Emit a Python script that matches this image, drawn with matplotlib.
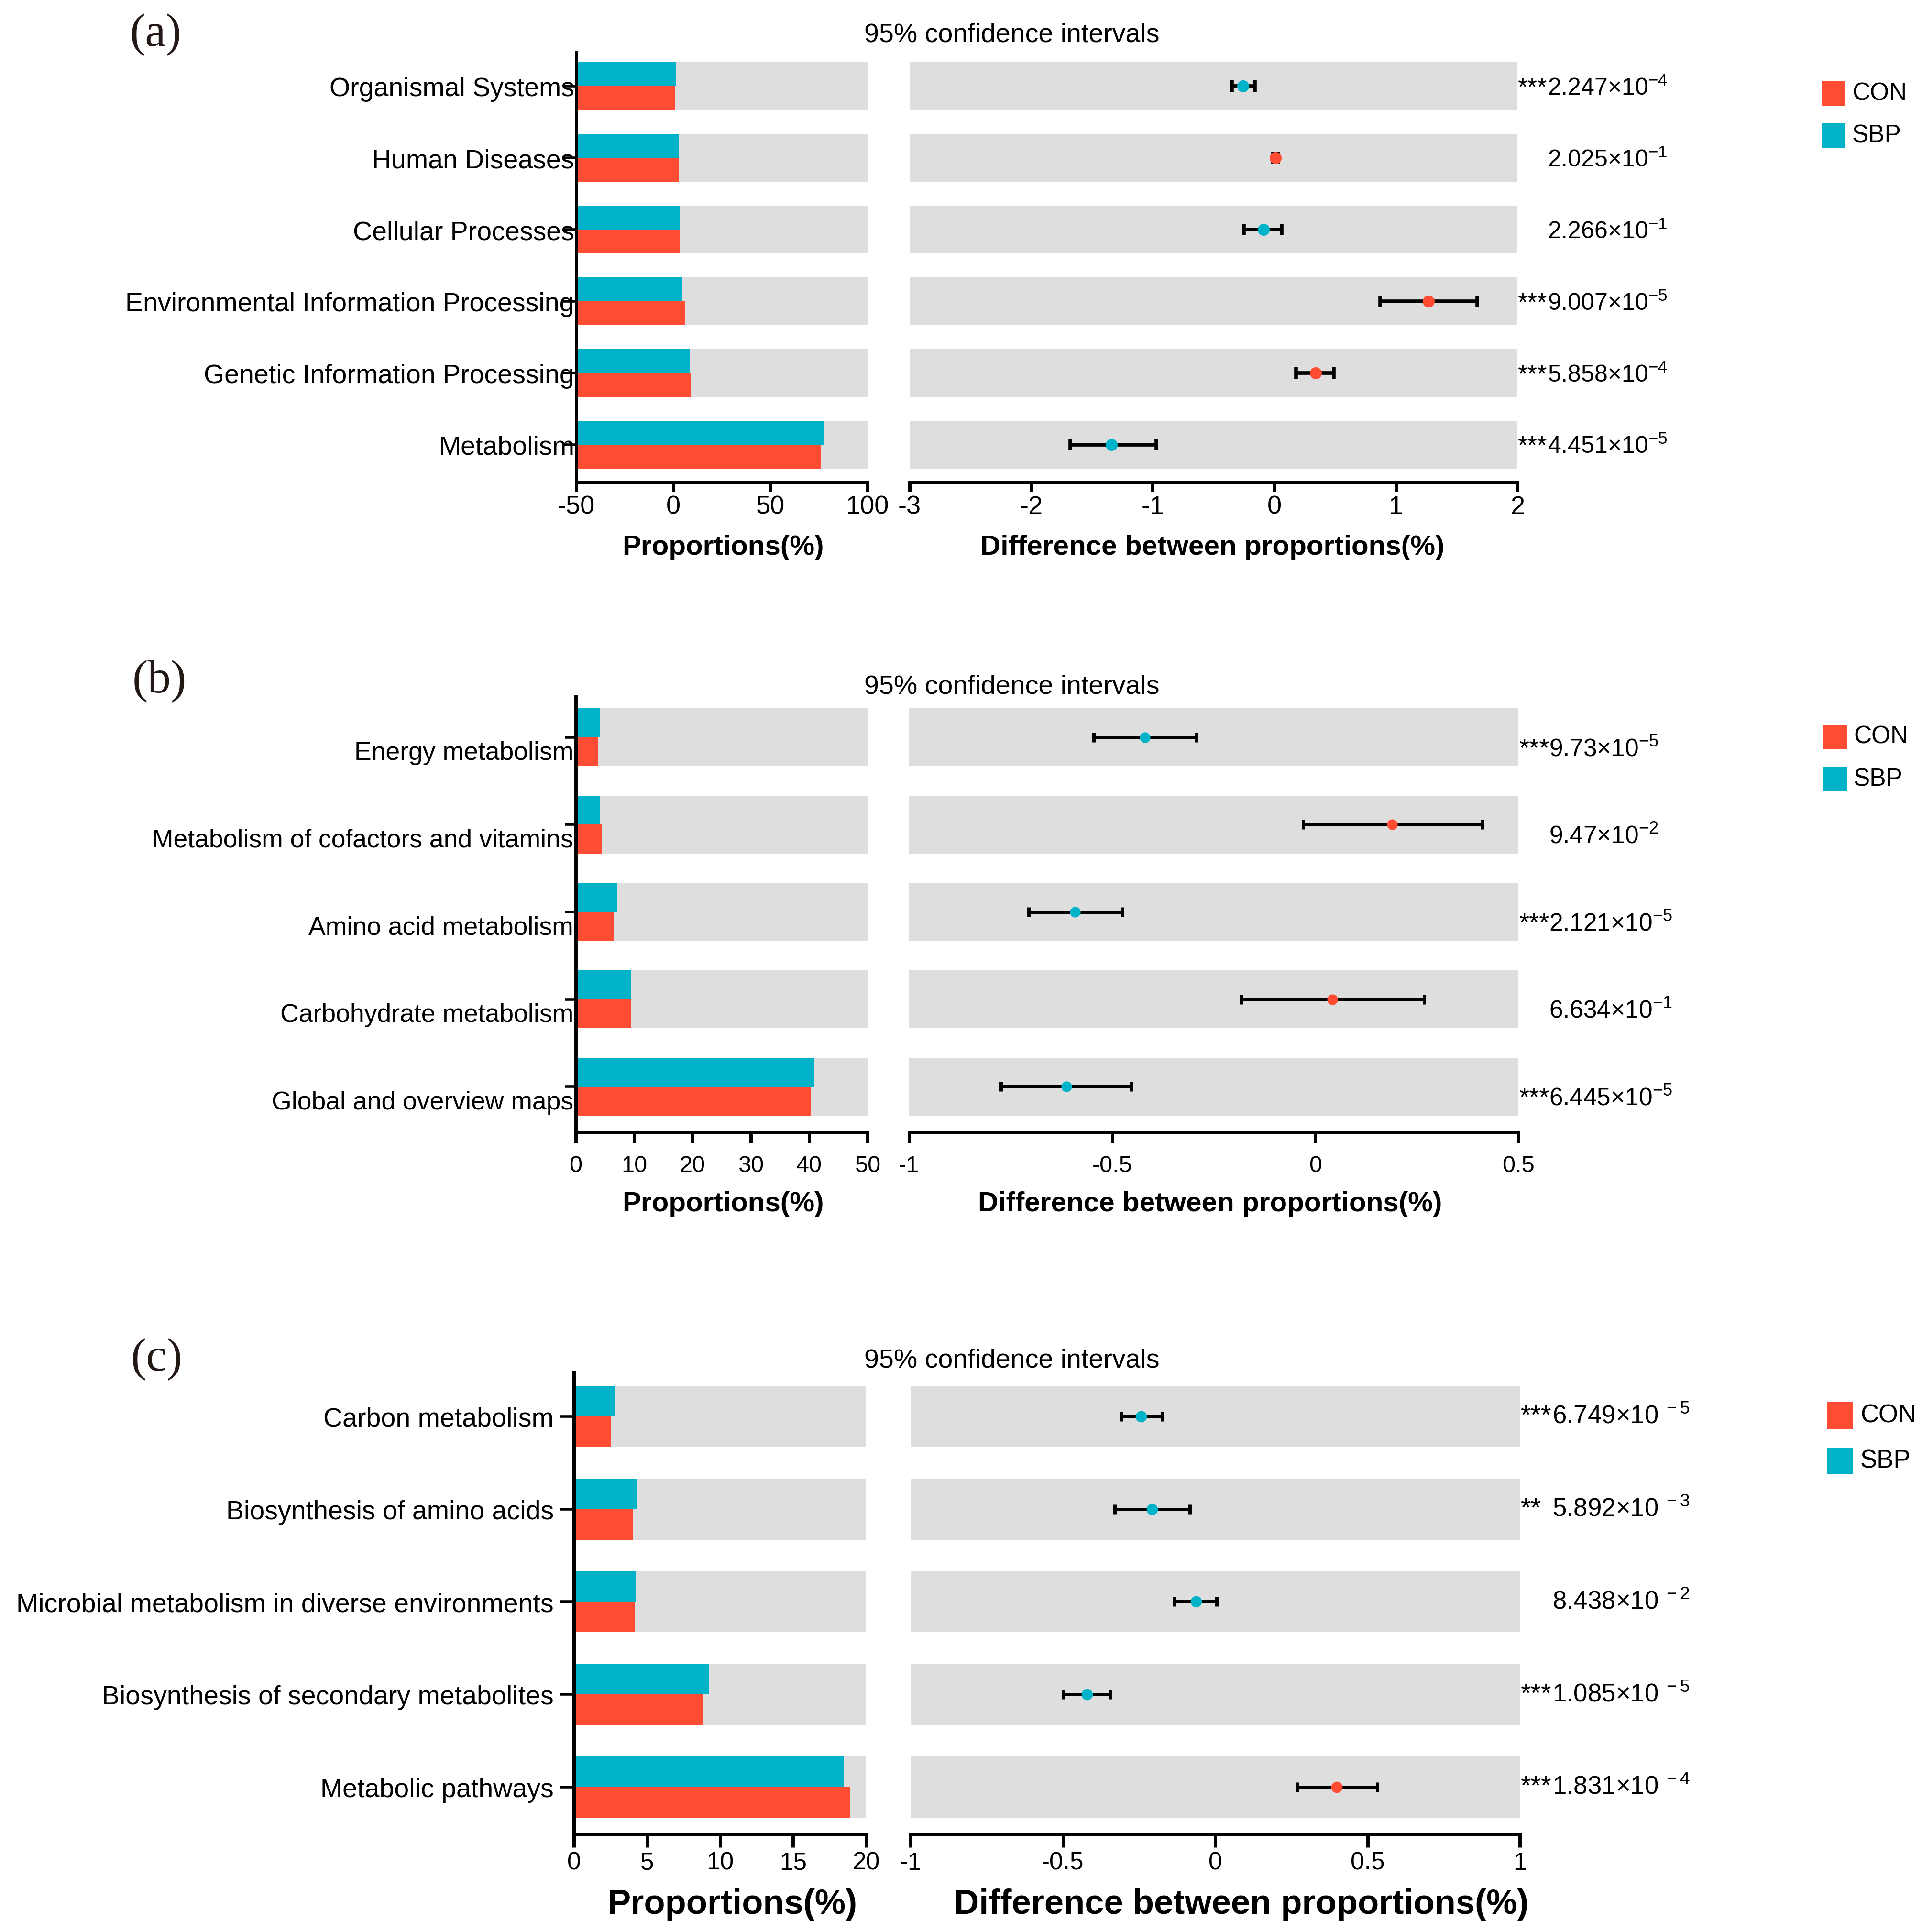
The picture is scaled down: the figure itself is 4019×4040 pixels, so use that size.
import matplotlib
matplotlib.use('Agg')
import matplotlib.pyplot as plt
import matplotlib.transforms as mtransforms
from matplotlib.patches import Rectangle

plt.rcParams['font.family'] = ['Liberation Sans', 'DejaVu Sans']
plt.rcParams['mathtext.fontset'] = 'custom'
plt.rcParams['mathtext.rm'] = 'Liberation Sans'
plt.rcParams['mathtext.it'] = 'Liberation Sans:italic'
plt.rcParams['mathtext.bf'] = 'Liberation Sans:bold'

# ---------------- data ----------------
groups = ["CON", "SBP"]

a_categories = ["Organismal Systems", "Human Diseases", "Cellular Processes",
                "Environmental Information Processing", "Genetic Information Processing",
                "Metabolism"]
a_con = [1.0, 2.9, 3.4, 5.8, 8.9, 76.1]
a_sbp = [1.26, 2.9, 3.4, 4.4, 8.4, 77.4]
a_diff = [-0.26, 0.01, -0.09, 1.27, 0.34, -1.34]
a_lo = [-0.35, -0.01, -0.25, 0.87, 0.18, -1.68]
a_hi = [-0.16, 0.03, 0.06, 1.67, 0.49, -0.97]
a_stars = ["***", "", "", "***", "***", "***"]
a_pval = ["2.247", "2.025", "2.266", "9.007", "5.858", "4.451"]
a_pexp = [-4, -1, -1, -5, -4, -5]
a_lticks = [-50, 0, 50, 100]
a_lticklabels = ["-50", "0", "50", "100"]
a_rticks = [-3, -2, -1, 0, 1, 2]
a_rticklabels = ["-3", "-2", "-1", "0", "1", "2"]

b_categories = ["Energy metabolism", "Metabolism of cofactors and vitamins",
                "Amino acid metabolism", "Carbohydrate metabolism",
                "Global and overview maps"]
b_con = [3.8, 4.4, 6.5, 9.5, 40.3]
b_sbp = [4.2, 4.1, 7.1, 9.5, 40.9]
b_diff = [-0.42, 0.189, -0.591, 0.042, -0.613]
b_lo = [-0.546, -0.03, -0.706, -0.183, -0.774]
b_hi = [-0.293, 0.412, -0.475, 0.268, -0.453]
b_stars = ["***", "", "***", "", "***"]
b_pval = ["9.73", "9.47", "2.121", "6.634", "6.445"]
b_pexp = [-5, -2, -5, -1, -5]
b_lticks = [0, 10, 20, 30, 40, 50]
b_lticklabels = ["0", "10", "20", "30", "40", "50"]
b_rticks = [-1, -0.5, 0, 0.5]
b_rticklabels = ["-1", "-0.5", "0", "0.5"]

c_categories = ["Carbon metabolism", "Biosynthesis of amino acids",
                "Microbial metabolism in diverse environments",
                "Biosynthesis of secondary metabolites", "Metabolic pathways"]
c_con = [2.54, 4.05, 4.17, 8.81, 18.9]
c_sbp = [2.78, 4.29, 4.25, 9.25, 18.5]
c_diff = [-0.244, -0.208, -0.063, -0.421, 0.398]
c_lo = [-0.31, -0.33, -0.133, -0.498, 0.269]
c_hi = [-0.174, -0.083, 0.004, -0.345, 0.532]
c_stars = ["***", "**", "", "***", "***"]
c_pval = ["6.749", "5.892", "8.438", "1.085", "1.831"]
c_pexp = [-5, -3, -2, -5, -4]
c_lticks = [0, 5, 10, 15, 20]
c_lticklabels = ["0", "5", "10", "15", "20"]
c_rticks = [-1, -0.5, 0, 0.5, 1]
c_rticklabels = ["-1", "-0.5", "0", "0.5", "1"]

# ---------------- style ----------------
RED = '#FF4C33'
TEAL = '#00B3C9'
GRAY = '#DEDEDE'
W, H = 4019, 4041
PT = 0.72  # points per pixel at dpi 100

fig = plt.figure(figsize=(W / 100, H / 100), dpi=100)


def px_axes(x0, x1, ytop, ybot):
    return fig.add_axes([x0 / W, 1 - ybot / H, (x1 - x0) / W, (ybot - ytop) / H])


def draw_panel(letter, cats, con, sbp, diff, lo, hi, stars, pval, pexp,
               lxlim, lticks, lticklabels, rxlim, rticks, rticklabels, L):
    n = len(cats)
    y = list(range(n))
    axl = px_axes(L['lx0'], L['lx1'], L['ytop'], L['ybot'])
    axr = px_axes(L['rx0'], L['rx1'], L['ytop'], L['ybot'])
    ylim = (n - 1 + L['bot_pad'], -L['top_pad'])
    h = L['gh']

    # ---- left: proportions ----
    xmin, xmax = lxlim
    axl.barh(y, [xmax - xmin] * n, left=xmin, height=h, color=GRAY, zorder=1, linewidth=0)
    axl.barh([v - h / 4 for v in y], [s - xmin for s in sbp], left=xmin, height=h / 2,
             color=TEAL, zorder=2, linewidth=0)
    axl.barh([v + h / 4 for v in y], [c - xmin for c in con], left=xmin, height=h / 2,
             color=RED, zorder=2, linewidth=0)
    axl.set_xlim(lxlim)
    axl.set_ylim(ylim)
    for s in ('top', 'right'):
        axl.spines[s].set_visible(False)
    for s in ('left', 'bottom'):
        axl.spines[s].set_linewidth(5)
    axl.set_yticks(y)
    axl.set_yticklabels(cats, fontsize=L['ylab_fs'])
    axl.tick_params(axis='y', direction='out', length=L['ytick_len'] * PT, width=4,
                    pad=L['ylab_pad'] * PT)
    if L.get('ylab_dy'):
        off = mtransforms.ScaledTranslation(0, -L['ylab_dy'] / 100, fig.dpi_scale_trans)
        for lab in axl.get_yticklabels():
            lab.set_transform(lab.get_transform() + off)
    axl.set_xticks(lticks)
    axl.set_xticklabels(lticklabels, fontsize=L['xtick_fs'])
    axl.tick_params(axis='x', direction='out', length=L['xtick_len'] * PT, width=5,
                    pad=L['xtick_pad'] * PT)
    axl.set_xlabel('Proportions(%)', fontsize=L['xlab_fs'], fontweight='bold')
    axl.xaxis.label.set_va('center')
    axl.xaxis.set_label_coords((L['pl_cx'] - L['lx0']) / (L['lx1'] - L['lx0']),
                               (L['ybot'] - L['xlab_cy']) / (L['ybot'] - L['ytop']))

    # ---- right: differences ----
    rmin, rmax = rxlim
    axr.barh(y, [rmax - rmin] * n, left=rmin, height=h, color=GRAY, zorder=1, linewidth=0)
    for i in range(n):
        col = RED if diff[i] > 0 else TEAL
        axr.errorbar(diff[i], y[i], xerr=[[diff[i] - lo[i]], [hi[i] - diff[i]]], fmt='none',
                     ecolor='black', elinewidth=L['elw'], capsize=L['cap'],
                     capthick=L['elw'], zorder=3)
        axr.plot(diff[i], y[i], 'o', color=col, markersize=L['ms'], markeredgewidth=0, zorder=4)
    axr.set_xlim(rxlim)
    axr.set_ylim(ylim)
    for s in ('top', 'right', 'left'):
        axr.spines[s].set_visible(False)
    axr.spines['bottom'].set_linewidth(5)
    axr.set_yticks([])
    axr.set_xticks(rticks)
    axr.set_xticklabels(rticklabels, fontsize=L['xtick_fs'])
    axr.tick_params(axis='x', direction='out', length=L['xtick_len'] * PT, width=5,
                    pad=L['xtick_pad'] * PT)
    axr.set_xlabel('Difference between proportions(%)', fontsize=L['xlab_fs'],
                   fontweight='bold')
    axr.xaxis.label.set_va('center')
    axr.xaxis.set_label_coords((L['dl_cx'] - L['rx0']) / (L['rx1'] - L['rx0']),
                               (L['ybot'] - L['xlab_cy']) / (L['ybot'] - L['ytop']))

    # ---- p-values ----
    blend = mtransforms.blended_transform_factory(fig.transFigure, axr.transData)
    fs = L['pv_fs']
    base_off = (0.358 * fs / PT + L['pv_dy']) / 100.0
    tr = blend + mtransforms.ScaledTranslation(0, -base_off, fig.dpi_scale_trans)
    for i in range(n):
        sp = L['sup_sp']
        txt = pval[i] + '×' + '$10^{' + sp + str(pexp[i]) + '}$'
        axr.text(L['pv_x'] / W, y[i], txt, transform=tr, ha='left', va='baseline',
                 fontsize=fs, clip_on=False)
        if stars[i]:
            axr.text(L['st_x'] / W, y[i], stars[i], transform=tr, ha='left', va='baseline',
                     fontsize=fs * 1.05, clip_on=False)

    # ---- title, panel letter ----
    fig.text(1807 / W, 1 - L['title_y'] / H, '95% confidence intervals', ha='left',
             va='center', fontsize=40)
    fig.text(L['let_x'] / W, 1 - L['let_y'] / H, letter, ha='center', va='center',
             fontsize=70, family=['Liberation Serif', 'DejaVu Serif'], color='#231815')

    # ---- legend ----
    for g, col, (yt, yb) in zip(groups, (RED, TEAL), L['leg_y']):
        fig.add_artist(Rectangle((L['leg_x'] / W, 1 - yb / H), L['leg_w'] / W, (yb - yt) / H,
                                 transform=fig.transFigure, facecolor=col, edgecolor='none'))
        fig.text(L['leg_tx'] / W, 1 - (yt + yb) / 2 / H, g, ha='left', va='center',
                 fontsize=L['leg_fs'])


LA = dict(lx0=1205, lx1=1814, rx0=1902, rx1=3173, ytop=111, ybot=1010,
          top_pad=0.47, bot_pad=0.53, gh=0.667, ylab_fs=40, ytick_len=27, ylab_pad=-23,
          xtick_fs=39, xtick_len=19, xtick_pad=7, xlab_fs=42, xlab_cy=1145,
          pl_cx=1512, dl_cx=2535, elw=5.5, cap=8.5, ms=18,
          pv_fs=36, pv_x=3236, st_x=3173, pv_dy=0, sup_sp='',
          title_y=73, let_x=326, let_y=73,
          leg_x=3809, leg_w=50, leg_y=[(170, 222), (259, 310)], leg_tx=3873, leg_fs=37)

LB = dict(lx0=1204, lx1=1814, rx0=1901, rx1=3175, ytop=1457, ybot=2368,
          top_pad=0.47, bot_pad=0.52, gh=0.663, ylab_fs=38.5, ytick_len=23, ylab_pad=-18,
          ylab_dy=27,
          xtick_fs=35, xtick_len=23, xtick_pad=25, xlab_fs=42, xlab_cy=2518,
          pl_cx=1512, dl_cx=2530, elw=5.0, cap=7.5, ms=16,
          pv_fs=37, pv_x=3239, st_x=3176, pv_dy=20, sup_sp='',
          title_y=1437, let_x=333, let_y=1425,
          leg_x=3812, leg_w=51, leg_y=[(1516, 1567), (1605, 1656)], leg_tx=3876, leg_fs=37)

LC = dict(lx0=1200, lx1=1811, rx0=1904, rx1=3178, ytop=2870, ybot=3836,
          top_pad=0.48, bot_pad=0.506, gh=0.66, ylab_fs=40, ytick_len=30, ylab_pad=12,
          xtick_fs=37, xtick_len=28, xtick_pad=8, xlab_fs=52, xlab_cy=3983,
          pl_cx=1531, dl_cx=2596, elw=5.0, cap=7.5, ms=17,
          pv_fs=38, pv_x=3246, st_x=3179, pv_dy=-5, sup_sp=r'\ ',
          title_y=2846, let_x=328, let_y=2843,
          leg_x=3820, leg_w=55, leg_y=[(2932, 2989), (3028, 3084)], leg_tx=3890, leg_fs=38)

draw_panel('(a)', a_categories, a_con, a_sbp, a_diff, a_lo, a_hi, a_stars, a_pval, a_pexp,
           (-50, 100), a_lticks, a_lticklabels, (-3, 2), a_rticks, a_rticklabels, LA)
draw_panel('(b)', b_categories, b_con, b_sbp, b_diff, b_lo, b_hi, b_stars, b_pval, b_pexp,
           (0, 50), b_lticks, b_lticklabels, (-1, 0.5), b_rticks, b_rticklabels, LB)
draw_panel('(c)', c_categories, c_con, c_sbp, c_diff, c_lo, c_hi, c_stars, c_pval, c_pexp,
           (0, 20), c_lticks, c_lticklabels, (-1, 1), c_rticks, c_rticklabels, LC)

fig.savefig('out.png', dpi=100, facecolor='white')
